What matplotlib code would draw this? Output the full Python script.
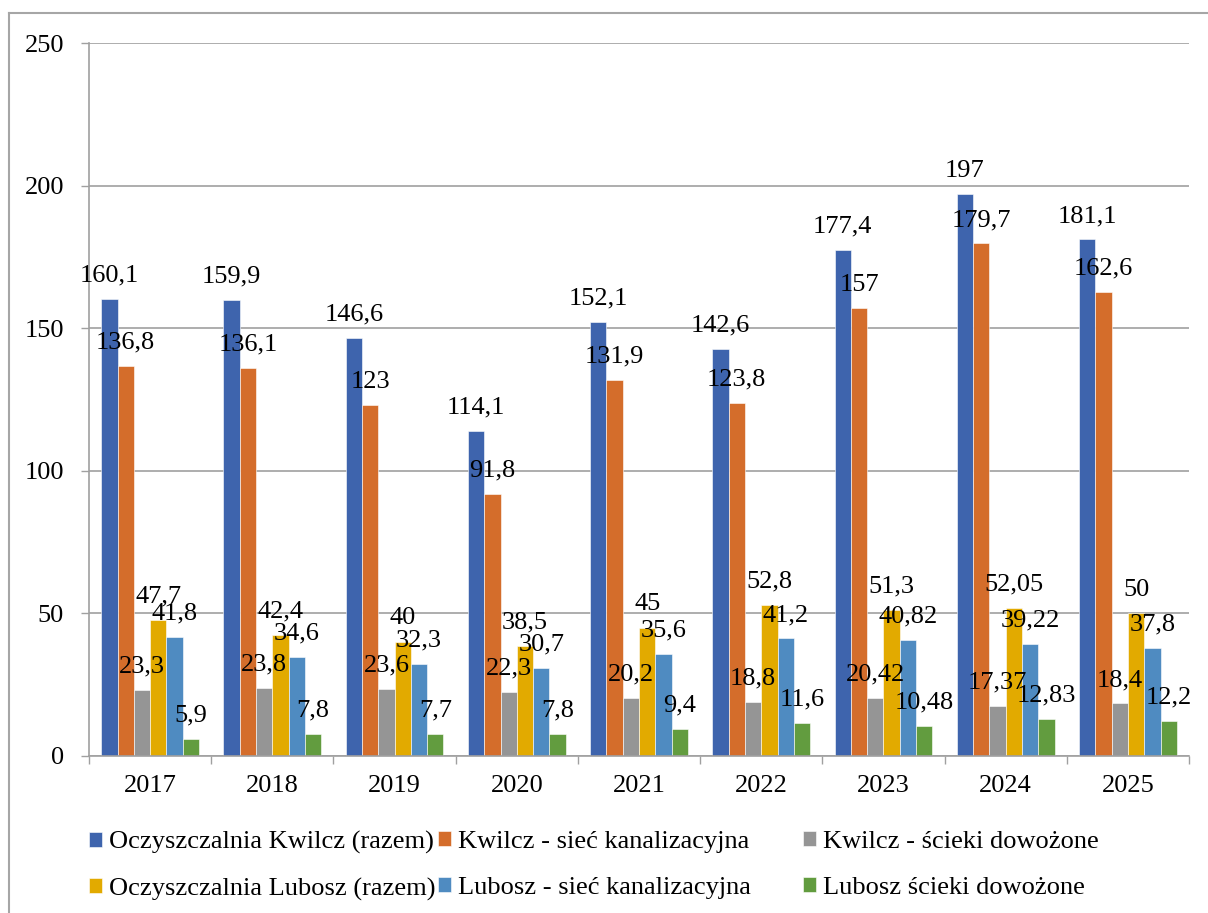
import numpy as np
import matplotlib as mpl
from matplotlib import pyplot as plt
from matplotlib.lines import Line2D

mpl.rcParams['font.family'] = ['Liberation Serif', 'DejaVu Serif']
mpl.rcParams['font.size'] = 19

years = ['2017', '2018', '2019', '2020', '2021', '2022', '2023', '2024', '2025']

series_names = [
    'Oczyszczalnia Kwilcz (razem)',
    'Kwilcz - sieć kanalizacyjna',
    'Kwilcz - ścieki dowożone',
    'Oczyszczalnia Lubosz (razem)',
    'Lubosz - sieć kanalizacyjna',
    'Lubosz ścieki dowożone',
]

kwilcz_total = [160.1, 159.9, 146.6, 114.1, 152.1, 142.6, 177.4, 197, 181.1]
kwilcz_network = [136.8, 136.1, 123, 91.8, 131.9, 123.8, 157, 179.7, 162.6]
kwilcz_delivered = [23.3, 23.8, 23.6, 22.3, 20.2, 18.8, 20.42, 17.37, 18.4]
lubosz_total = [47.7, 42.4, 40, 38.5, 45, 52.8, 51.3, 52.05, 50]
lubosz_network = [41.8, 34.6, 32.3, 30.7, 35.6, 41.2, 40.82, 39.22, 37.8]
lubosz_delivered = [5.9, 7.8, 7.7, 7.8, 9.4, 11.6, 10.48, 12.83, 12.2]

colors = ['#3E64AD', '#D46D2B', '#959595', '#E2AA00', '#4F8BC1', '#629C3F']

all_series = [kwilcz_total, kwilcz_network, kwilcz_delivered,
              lubosz_total, lubosz_network, lubosz_delivered]

fig = plt.figure(figsize=(12.08, 9.13), dpi=100)
ax = fig.add_axes([0.0737, 0.172, 0.9106, 0.7809])

x = np.arange(len(years))
width = 0.8 / 6
grid_color = '#A0A0A0'

for i, (vals, name, col) in enumerate(zip(all_series, series_names, colors)):
    pos = x - 0.4 + width * (i + 0.5)
    bars = ax.bar(pos, vals, width, color=col, label=name,
                  edgecolor='white', linewidth=0.4)
    ax.bar_label(bars, labels=[f"{v:g}".replace('.', ',') for v in vals],
                 padding=9, fontsize=19)

ax.set_xlim(-0.5, len(years) - 0.5)
ax.set_ylim(0, 250)
ax.set_yticks(range(0, 251, 50))
ax.set_xticks(x)
ax.set_xticklabels(years)
ax.set_xticks(np.arange(-0.5, len(years), 1), minor=True)
ax.tick_params(axis='x', which='major', length=0, pad=14)
ax.tick_params(axis='x', which='minor', length=6, color=grid_color, width=1)
ax.tick_params(axis='y', length=6, color=grid_color, width=1, pad=12)

ax.set_axisbelow(True)
ax.yaxis.grid(True, color=grid_color, linewidth=1.2)
for side in ['top', 'right']:
    ax.spines[side].set_visible(False)
for side in ['left', 'bottom']:
    ax.spines[side].set_color(grid_color)
    ax.spines[side].set_linewidth(1.2)

# legend: one column per legend so the column gaps match the original
handles, labels = ax.get_legend_handles_labels()
col_x = [0.0737, 0.3625, 0.6645]
for c in range(3):
    idx = [c, c + 3]
    fig.legend([handles[i] for i in idx], [labels[i] for i in idx],
               loc='upper left', bbox_to_anchor=(col_x[c], 0.090), ncol=1,
               frameon=False, handlelength=0.5, handleheight=0.5,
               handletextpad=0.27, labelspacing=0.9, borderpad=0,
               borderaxespad=0, fontsize=19)

# outer chart border
fig.add_artist(Line2D([0.0075, 0.0075], [-0.01, 0.9858], color='#A6A6A6',
                      linewidth=1.5, transform=fig.transFigure))
fig.add_artist(Line2D([0.0075, 1.01], [0.9858, 0.9858], color='#A6A6A6',
                      linewidth=1.5, transform=fig.transFigure))

fig.savefig('out.png', dpi=100)
